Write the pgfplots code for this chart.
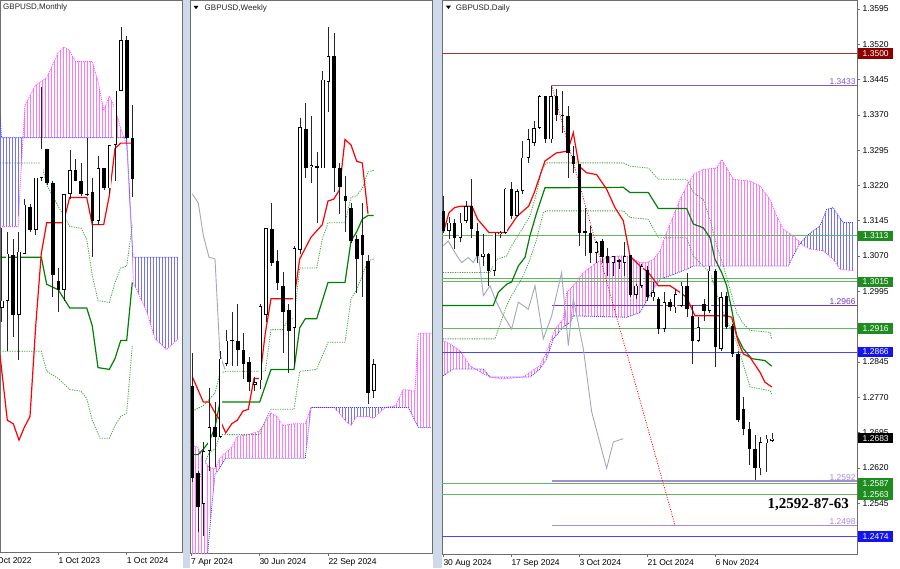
\documentclass[border=0pt]{standalone}
\usepackage{pgfplots}
\pgfplotsset{compat=1.18}
\usepackage{pgfplotstable}
\usepackage{fontspec}
\setmainfont{Liberation Sans}
\newfontfamily\timesbold{Liberation Serif}
\usetikzlibrary{patterns.meta}

\definecolor{tenkan}{RGB}{255,0,0}
\definecolor{kijun}{RGB}{0,128,0}
\definecolor{spanline}{RGB}{60,165,60}
\definecolor{chikou}{RGB}{160,168,186}
\definecolor{kumoA}{RGB}{255,70,255}
\definecolor{kumoB}{RGB}{60,60,255}
\definecolor{kumoAfill}{RGB}{255,120,255}
\definecolor{kumoBfill}{RGB}{115,115,255}
\definecolor{sepband}{RGB}{206,217,233}
\definecolor{frame}{RGB}{110,110,110}
\definecolor{lvlgreen}{RGB}{95,185,95}
\definecolor{boxgreen}{RGB}{30,140,30}
\definecolor{lvlblue}{RGB}{70,70,255}
\definecolor{boxblue}{RGB}{20,20,240}
\definecolor{lvlred}{RGB}{180,45,45}
\definecolor{boxred}{RGB}{140,0,0}
\definecolor{purpA}{RGB}{130,90,205}
\definecolor{purpB}{RGB}{115,55,185}
\definecolor{purpC}{RGB}{170,140,212}

% monthly, x and y in screen units (y from top)
\pgfplotstableread{
x     o     h     l     c
1.7   307.9 228.2 322.4 300.6
7.4   300.6 231.8 351.3 253.5
13.1  255.4 239.1 336.8 315.1
18.7  315.1 231.8 360.4 251.7
24.4  253.5 199.2 253.5 204.6
30.1  206.5 204.0 232.0 230.0
35.8  230.0 177.5 235.4 177.5
41.5  177.5 86.9  181.1 148.5
47.1  148.5 148.5 184.7 182.9
52.8  182.9 181.1 297.0 275.3
58.5  280.7 268.0 311.5 289.8
64.2  289.8 193.8 300.6 193.8
69.9  193.8 150.3 199.2 170.2
75.5  170.2 159.4 181.1 181.1
81.2  181.1 163.0 195.6 193.8
86.9  193.8 137.6 195.6 194.5
92.6  192.0 177.5 257.2 220.9
98.3  220.9 155.7 224.6 168.4
103.9 168.4 168.4 190.2 188.3
109.6 188.3 144.9 193.8 144.9
115.3 144.9 90.6  181.1 90.6
121.0 90.6  27.2  90.6  39.8
126.7 39.8  36.2  139.4 137.6
132.3 137.6 105.0 197.4 179.3
}\monthly

% weekly, same units
\pgfplotstableread{
x     o     h     l     c
192.3 385.7 353.1 481.7 478.1
198.0 472.7 470.9 532.4 507.1
203.6 503.5 441.9 536.1 450.9
209.3 450.9 387.6 470.9 427.4
215.0 427.4 402.0 467.2 436.5
220.6 436.5 351.3 438.3 358.6
226.3 364.0 329.6 365.8 340.5
232.0 341.2 311.5 365.8 339.7
237.7 340.5 304.2 365.8 349.5
243.3 349.5 333.2 378.5 364.0
249.0 362.2 356.8 391.2 382.1
254.7 384.7 376.7 391.2 382.1
260.3 380.3 304.2 389.4 306.1
266.0 315.1 228.2 322.4 228.2
271.7 228.9 202.8 266.2 262.6
277.3 260.8 249.9 289.8 282.5
283.0 286.1 271.7 353.1 311.5
288.7 309.7 304.2 373.1 331.4
294.3 327.8 246.3 365.8 248.1
300.0 249.9 117.7 253.5 126.8
305.7 128.6 103.2 177.5 168.4
311.3 166.6 115.9 182.9 164.8
317.0 165.9 152.1 222.8 168.4
322.7 168.4 70.6  168.4 79.7
328.3 81.5  27.2  112.3 56.1
334.0 56.1  32.6  192.0 168.4
339.7 168.4 163.0 213.7 186.5
345.3 195.6 175.7 231.8 201.0
351.0 208.3 202.8 242.7 240.9
356.7 239.1 235.4 293.4 259.0
362.3 235.4 202.8 297.0 255.4
368.0 260.8 255.4 403.9 393.0
373.7 391.2 358.6 398.4 364.0
}\weekly

% daily, bar index and price
\pgfplotstableread{
x  o      h      l      c
0  1.3166 1.3198 1.3120 1.3123
1  1.3123 1.3152 1.3106 1.3141
2  1.3141 1.3148 1.3085 1.3109
3  1.3109 1.3162 1.3099 1.3141
4  1.3145 1.3187 1.3141 1.3176
5  1.3176 1.3233 1.3109 1.3127
6  1.3123 1.3141 1.3056 1.3070
7  1.3068 1.3116 1.3049 1.3075
8  1.3074 1.3077 1.3007 1.3039
9  1.3039 1.3120 1.3028 1.3120
10 1.3116 1.3123 1.3109 1.3120
11 1.3120 1.3215 1.3116 1.3213
12 1.3213 1.3227 1.3148 1.3155
13 1.3155 1.3212 1.3152 1.3208
14 1.3208 1.3314 1.3201 1.3279
15 1.3279 1.3339 1.3268 1.3318
16 1.3310 1.3356 1.3303 1.3342
17 1.3342 1.3413 1.3339 1.3409
18 1.3409 1.3411 1.3310 1.3318
19 1.3318 1.3432 1.3310 1.3409
20 1.3409 1.3425 1.3356 1.3370
21 1.3370 1.3420 1.3332 1.3368
22 1.3368 1.3388 1.3236 1.3289
23 1.3282 1.3303 1.3247 1.3265
24 1.3265 1.3265 1.3092 1.3120
25 1.3120 1.3173 1.3070 1.3123
26 1.3120 1.3134 1.3056 1.3077
27 1.3077 1.3102 1.3056 1.3099
28 1.3102 1.3106 1.3056 1.3067
29 1.3070 1.3088 1.3028 1.3056
30 1.3056 1.3070 1.3028 1.3070
31 1.3061 1.3063 1.3042 1.3058
32 1.3056 1.3100 1.3028 1.3070
33 1.3072 1.3072 1.2984 1.2987
34 1.2987 1.3010 1.2979 1.3007
35 1.3007 1.3053 1.3003 1.3049
36 1.3041 1.3049 1.2975 1.2982
37 1.2982 1.3014 1.2975 1.2993
38 1.2979 1.2982 1.2904 1.2915
39 1.2915 1.2993 1.2908 1.2972
40 1.2972 1.2979 1.2954 1.2961
41 1.2961 1.3000 1.2950 1.2989
42 1.2964 1.3014 1.2961 1.3007
43 1.3007 1.3035 1.2940 1.2957
44 1.2943 1.2965 1.2841 1.2890
45 1.2890 1.2940 1.2887 1.2919
46 1.2968 1.2979 1.2933 1.2954
47 1.2954 1.3049 1.2950 1.3039
48 1.3039 1.3042 1.2834 1.2876
49 1.2873 1.2993 1.2869 1.2982
50 1.2986 1.2993 1.2915 1.2919
51 1.2922 1.2926 1.2855 1.2862
52 1.2862 1.2869 1.2717 1.2721
53 1.2746 1.2770 1.2689 1.2703
54 1.2703 1.2717 1.2626 1.2661
55 1.2661 1.2689 1.2594 1.2619
56 1.2619 1.2686 1.2604 1.2675
57 1.2672 1.2689 1.2612 1.2682
58 1.2677 1.2695 1.2675 1.2682
}\daily

\pgfplotsset{
  panel/.style={scale only axis, anchor=south west,
    axis line style={frame, line width=0.6pt},
    tick style={frame, line width=0.5pt}, tick align=outside, major tick length=3pt,
    xtick pos=bottom,
    tick label style={font=\fontsize{8.5}{10}\selectfont},
    xticklabel style={anchor=north west, inner sep=0pt, yshift=-2pt}},
}
\tikzset{
  kumoline/.style={line width=0.8pt, dash pattern=on 1pt off 1pt},
  spandot/.style={spanline, line width=0.8pt, dash pattern=on 1.2pt off 1.2pt},
  kumofill/.style={draw=none, pattern={Lines[angle=90,distance=3pt,line width=0.38pt]}, pattern color=#1},
  pbox/.style={anchor=west, text=white, inner xsep=1pt, inner ysep=0pt,
    minimum height=10.5pt, minimum width=35pt, xshift=1pt,
    font=\fontsize{8.5}{10}\selectfont},
  lvltext/.style={anchor=south east, inner sep=0.6pt, font=\fontsize{8.5}{10}\selectfont},
}

\begin{document}
\begin{tikzpicture}
\useasboundingbox (0pt,0pt) rectangle (900pt,568pt);
\clip (0pt,0pt) rectangle (900pt,568pt);
\fill[white] (0pt,0pt) rectangle (900pt,568pt);
\fill[sepband] (182.5pt,0pt) rectangle (189.5pt,568pt);
\fill[sepband] (432.5pt,0pt) rectangle (441.5pt,568pt);

% ---------------- Monthly ----------------
\begin{axis}[panel, at={(0pt,16pt)}, width=182pt, height=552pt,
  xmin=0, xmax=182, ymin=0, ymax=552, y dir=reverse, ytick=\empty,
  xtick={58.3,126.7}, xticklabels={1 Oct 2023,1 Oct 2024}]
% cloud regions
\addplot[kumofill=kumoBfill] coordinates {(0,115.9) (1.5,137.6) (23.04,137.6) (20,188.3) (18.3,226.4) (0,226.4)} -- cycle;
\addplot[kumofill=kumoAfill] coordinates {(23.04,137.6) (25,105) (35.7,85.1) (46.7,77.9) (58.3,52.5) (64,47.1) (69.7,50.7) (75.3,61.6) (92.3,61.6) (98,81.5) (103.7,110.5) (109.3,96) (115,108.7) (120.7,128.6) (124,137.6)} -- cycle;
\addplot[kumofill=kumoBfill] coordinates {(124,137.6) (126.7,137.6) (133,257.2) (178.3,257.2) (178.3,338.7) (166.7,349.5) (155,338.7) (146.7,311.5) (140,297) (133.3,282.5) (132.3,250) (126.7,144.9)} -- cycle;
\addplot[kumoA, kumoline] coordinates {(0,226.4) (18.3,226.4) (20,188.3) (25,105) (35.7,85.1) (46.7,77.9) (58.3,52.5) (64,47.1) (69.7,50.7) (75.3,61.6) (92.3,61.6) (98,81.5) (103.7,110.5) (109.3,96) (115,108.7) (120.7,128.6) (126.7,144.9) (132.3,250) (133.3,282.5) (140,297) (146.7,311.5) (155,338.7) (166.7,349.5) (178.3,338.7)};
\addplot[kumoB, kumoline] coordinates {(0,115.9) (1.5,137.6) (126.7,137.6) (133,257.2) (178.3,257.2)};
% lines
\addplot[spandot] coordinates {(0,163) (41.3,163) (46.7,184.7) (58.3,206.5) (69.7,226.4) (81,228.2) (86.7,239.1) (92.3,275.3) (98,300.6) (109.3,302.4) (115,282.5) (120.7,268) (126.7,266.2) (132.3,224.6)};
\addplot[spandot] coordinates {(0,351.3) (41.3,351.3) (46.7,371.3) (58.3,378.5) (69.7,389.4) (81,391.2) (86.7,398.4) (92.3,420.2) (100,438.3) (109.3,438.3) (115,425.6) (120.7,416.5) (126.7,412.9) (132.3,345.9)};
\addplot[kijun, line width=1.2pt] coordinates {(0,257.2) (41.3,257.2) (46.7,284.3) (58.3,289.8) (69.7,307.9) (86.7,307.9) (92.3,326) (98,367.6) (109.3,369.4) (115,358.6) (120.7,340.5) (126.7,340.5) (132.3,282.5)};
\addplot[tenkan, line width=1.2pt] coordinates {(0,355) (7.3,420.2) (13.3,423.8) (19,440.1) (24.3,427.4) (30,416.5) (35.7,326) (41.3,253.5) (46.7,222.8) (63.3,222.8) (69.7,197.4) (86.7,197.4) (92.3,224.6) (103.7,224.6) (109.3,195.6) (115,148.5) (120.7,143.1) (132.3,143.1)};
% candles: wick, body, hollow inside of rising bars
\addplot[black!85, line width=0.8pt, quiver={u=0, v=\thisrow{l}-\thisrow{h}}] table[x=x, y=h] {\monthly};
\addplot[black, line width=3.6pt, quiver={u=0, v={max(abs(\thisrow{o}-\thisrow{c}),1)}}] table[x=x, y expr={min(\thisrow{o},\thisrow{c})}] {\monthly};
\addplot[white, line width=2.1pt, quiver={u=0, v={max(\thisrow{o}-\thisrow{c}-1.5,0)}}] table[x=x, y expr={\thisrow{c}+0.75}] {\monthly};
\node[anchor=west, inner sep=0pt, font=\fontsize{8}{9.6}\selectfont, text=black!85] at (axis cs:3,7.5) {GBPUSD,Monthly};
\coordinate (oct22) at (axis cs:-10.1,552);
\end{axis}
\node[anchor=north west, inner sep=0pt, yshift=-5pt, font=\fontsize{8.5}{10}\selectfont] at (oct22) {1 Oct 2022};

% ---------------- Weekly ----------------
\begin{axis}[panel, at={(190pt,15pt)}, width=242pt, height=553pt,
  xmin=190, xmax=432, ymin=0, ymax=553, y dir=reverse, ytick=\empty,
  xtick={191,259.3,328.3}, xticklabels={7 Apr 2024,30 Jun 2024,22 Sep 2024}]
\addplot[kumofill=kumoAfill] coordinates {(190,445) (192.3,445.5) (197.7,447.3) (203.3,460) (209,467.2) (215,469) (220,458.2) (225.7,452.8) (231.7,447.3) (237.3,436.5) (248.3,434.6) (259.7,431) (265.3,422) (271,412.9) (277,416.5) (282.7,425.6) (294,423.8) (305.3,423.8) (311,407.5) (305.3,458.2) (225.7,458.2) (220,467.2) (215,474.5) (211.7,507) (206.7,565) (192.3,572) (190,575)} -- cycle;
\addplot[kumofill=kumoBfill] coordinates {(333.7,407.5) (339.3,412.9) (345,420.2) (351,425.6) (356.7,416.5) (368,416.5) (373.7,418.3) (385,407.5)} -- cycle;
\addplot[kumofill=kumoAfill] coordinates {(385,407.5) (395.7,405.7) (403.3,389.4) (415,391.2) (418.3,333.2) (432,333.2) (432,427.4) (418.3,427.4) (408.3,407.5)} -- cycle;
\addplot[kumoA, kumoline] coordinates {(190,445) (192.3,445.5) (197.7,447.3) (203.3,460) (209,467.2) (215,469) (220,458.2) (225.7,452.8) (231.7,447.3) (237.3,436.5) (248.3,434.6) (259.7,431) (265.3,422) (271,412.9) (277,416.5) (282.7,425.6) (294,423.8) (305.3,423.8) (311,407.5) (333.7,407.5) (339.3,412.9) (345,420.2) (351,425.6) (356.7,416.5) (368,416.5) (373.7,418.3) (385,407.5) (395.7,405.7) (403.3,389.4) (415,391.2) (418.3,333.2) (431.7,333.2)};
\addplot[kumoB, kumoline] coordinates {(192.3,572) (206.7,565) (211.7,507) (215,474.5) (220,467.2) (225.7,458.2) (305.3,458.2) (311,407.5) (408.3,407.5) (418.3,427.4) (431.7,427.4)};
\addplot[chikou, line width=0.9pt] coordinates {(192.3,193.8) (198.3,202.8) (203.3,235.4) (209,257.2) (215,259) (220,355) (225,369.4)};
\addplot[spandot] coordinates {(192.3,411.1) (203.3,405.7) (215,393) (220,373.1) (225.7,371.3) (265.3,371.3) (271,329.6) (282.7,329.6) (288.3,318.7) (294,318.7) (299.7,268) (316.7,268) (322.3,239.1) (328,222.8) (345,222.8) (351,197.4) (356.7,195.6) (362.3,188.3) (368,172) (373.7,170.2)};
\addplot[spandot] coordinates {(198.3,481.7) (203.3,467.2) (209,452.8) (215,449.1) (220,434.6) (259.7,434.6) (265.3,420.2) (271,409.3) (294,409.3) (299.7,371.3) (316.7,369.4) (328,342.3) (345,342.3) (351,298.8) (356.7,289.8) (362.3,275.3) (368,260.8) (373.7,259)};
\addplot[kijun, line width=1.2pt] coordinates {(192.3,454.6) (198.3,454.6) (203.3,449.1) (209,441.9) (215,427.4) (220,402) (259.7,402) (271,369.4) (294,369.4) (299.7,327.8) (305.3,318.7) (316.7,318.7) (328,282.5) (345,282.5) (351,240.9) (356.7,231.8) (362.3,219.1) (368,215.5) (373.7,215.5)};
\addplot[tenkan, line width=1.2pt] coordinates {(192.3,376.7) (203.3,402) (209,402) (215,412.9) (220,420.2) (225.7,432.8) (231.7,423.8) (237.3,420.2) (243,411.1) (248.3,409.3) (254,378.5) (259.7,378.5) (265.3,333.2) (271,298.8) (294,298.8) (299.7,259) (311,237.2) (322.3,224.6) (328,201) (333.7,199.2) (339.3,190.2) (345,139.4) (351,144.9) (356.7,161.2) (362.3,163) (368,213.7)};
\addplot[black!85, line width=0.8pt, quiver={u=0, v=\thisrow{l}-\thisrow{h}}] table[x=x, y=h] {\weekly};
\addplot[black, line width=3.6pt, quiver={u=0, v={max(abs(\thisrow{o}-\thisrow{c}),1)}}] table[x=x, y expr={min(\thisrow{o},\thisrow{c})}] {\weekly};
\addplot[white, line width=2.1pt, quiver={u=0, v={max(\thisrow{o}-\thisrow{c}-1.5,0)}}] table[x=x, y expr={\thisrow{c}+0.75}] {\weekly};
\fill[black] (axis cs:193.5,5.8) -- (axis cs:198.5,5.8) -- (axis cs:196,9.2) -- cycle;
\node[anchor=west, inner sep=0pt, font=\fontsize{8}{9.6}\selectfont, text=black!85] at (axis cs:204.5,8) {GBPUSD,Weekly};
\end{axis}

% ---------------- Daily ----------------
\begin{axis}[panel, at={(442pt,14pt)}, width=415pt, height=554pt,
  xmin=-0.23, xmax=73, ymin=1.2437, ymax=1.3614,
  xtick={0,12,24,36,48}, xticklabels={30 Aug 2024,17 Sep 2024,3 Oct 2024,21 Oct 2024,6 Nov 2024},
  ytick pos=right, yticklabel pos=right,
  ytick={1.2545,1.2620,1.2695,1.2770,1.2845,1.2995,1.3070,1.3145,1.3220,1.3295,1.3370,1.3445,1.3520,1.3595},
  yticklabel style={anchor=west, xshift=-1pt, /pgf/number format/fixed, /pgf/number format/fixed zerofill, /pgf/number format/precision=4},
  /pgf/number format/assume math mode=true]
\addplot[kumofill=kumoAfill] coordinates {(-0.3,1.2890) (0,1.2890) (1.18,1.2883) (2.94,1.2869) (4.71,1.2837) (7.06,1.2820) (8.24,1.2813) (10.59,1.2809) (14.12,1.2813) (15.29,1.2823) (17.06,1.2837) (18.24,1.2866) (19.71,1.2915) (21.18,1.2936) (21.76,1.2993) (22.94,1.3007) (24.71,1.3035) (27.06,1.3056) (28.82,1.3067) (31.18,1.3070) (32.35,1.3070) (34.71,1.3056) (35.88,1.3056) (37.06,1.3063) (38.24,1.3081) (39.41,1.3120) (40.59,1.3155) (41.76,1.3190) (42.94,1.3219) (44.12,1.3243) (45.88,1.3254) (48.24,1.3257) (49.12,1.3275) (50,1.3257) (51.18,1.3233) (54.12,1.3229) (55.88,1.3219) (57.65,1.3190) (58.82,1.3155) (60,1.3127) (61.76,1.3113) (63.05,1.3098) (62.65,1.3092) (60.88,1.3049) (44.12,1.3049) (42.94,1.3042) (40,1.3028) (38.24,1.3021) (37.06,1.2999) (35.88,1.2975) (34.71,1.2950) (32.35,1.2940) (22.94,1.2943) (22.35,1.2929) (21.18,1.2919) (19.41,1.2894) (18.24,1.2852) (17.06,1.2830) (15.29,1.2813) (8.24,1.2813) (7.06,1.2830) (1.76,1.2830) (0,1.2816) (-0.3,1.2816)} -- cycle;
\addplot[kumofill=kumoBfill] coordinates {(63.05,1.3098) (64.12,1.3113) (66.47,1.3134) (67.65,1.3169) (68.82,1.3173) (69.71,1.3155) (70.59,1.3141) (72.35,1.3141) (72.35,1.3039) (70,1.3042) (68.82,1.3063) (67.06,1.3081) (64.71,1.3085) (63.53,1.3092)} -- cycle;
\addplot[kumoA, kumoline] coordinates {(0,1.2890) (1.18,1.2883) (2.94,1.2869) (4.71,1.2837) (7.06,1.2820) (8.24,1.2813) (10.59,1.2809) (14.12,1.2813) (15.29,1.2823) (17.06,1.2837) (18.24,1.2866) (19.71,1.2915) (21.18,1.2936) (21.76,1.2993) (22.94,1.3007) (24.71,1.3035) (27.06,1.3056) (28.82,1.3067) (31.18,1.3070) (32.35,1.3070) (34.71,1.3056) (35.88,1.3056) (37.06,1.3063) (38.24,1.3081) (39.41,1.3120) (40.59,1.3155) (41.76,1.3190) (42.94,1.3219) (44.12,1.3243) (45.88,1.3254) (48.24,1.3257) (49.12,1.3275) (50,1.3257) (51.18,1.3233) (54.12,1.3229) (55.88,1.3219) (57.65,1.3190) (58.82,1.3155) (60,1.3127) (61.76,1.3113) (63.53,1.3092) (64.71,1.3085) (67.06,1.3081) (68.82,1.3063) (70,1.3042) (72.35,1.3039)};
\addplot[kumoB, kumoline] coordinates {(0,1.2816) (1.76,1.2830) (7.06,1.2830) (8.24,1.2813) (15.29,1.2813) (17.06,1.2830) (18.24,1.2852) (19.41,1.2894) (21.18,1.2919) (22.35,1.2929) (22.94,1.2943) (32.35,1.2940) (34.71,1.2950) (35.88,1.2975) (37.06,1.2999) (38.24,1.3021) (40,1.3028) (42.94,1.3042) (44.12,1.3049) (60.88,1.3049) (62.65,1.3092) (64.12,1.3113) (66.47,1.3134) (67.65,1.3169) (68.82,1.3173) (69.71,1.3155) (70.59,1.3141) (72.35,1.3141)};
% levels
\addplot[lvlred, line width=1pt] coordinates {(-1,1.3500) (74,1.3500)};
\addplot[purpA, line width=0.9pt] coordinates {(19.12,1.3433) (74,1.3433)};
\addplot[lvlgreen, line width=1pt] coordinates {(-1,1.3113) (74,1.3113)};
\addplot[lvlgreen, line width=0.9pt] coordinates {(-1,1.3022) (74,1.3022)};
\addplot[lvlgreen, line width=0.9pt] coordinates {(-1,1.3015) (74,1.3015)};
\addplot[purpB, line width=0.9pt] coordinates {(19.12,1.2966) (74,1.2966)};
\addplot[lvlgreen, line width=1pt] coordinates {(-1,1.2916) (74,1.2916)};
\addplot[lvlblue, line width=1pt] coordinates {(-1,1.2866) (74,1.2866)};
\addplot[purpC, line width=1.4pt] coordinates {(19.12,1.2592) (74,1.2592)};
\addplot[lvlgreen, line width=1pt] coordinates {(-1,1.2587) (74,1.2587)};
\addplot[lvlgreen, line width=1pt] coordinates {(-1,1.2563) (74,1.2563)};
\addplot[purpC, line width=1.4pt] coordinates {(19.12,1.2498) (74,1.2498)};
\addplot[lvlblue, line width=1pt] coordinates {(-1,1.2474) (74,1.2474)};
% ichimoku lines
\addplot[chikou, line width=0.9pt] coordinates {(0,1.3092) (0.88,1.3102) (2.06,1.3077) (3.24,1.3056) (4.41,1.3067) (5.29,1.3056) (6.18,1.3077) (7.06,1.2986) (8.24,1.3007) (9.12,1.2979) (10.29,1.2950) (12.06,1.2915) (13.24,1.2972) (15,1.2957) (16.18,1.3007) (17.65,1.2894) (19.12,1.2943) (20.88,1.3035) (22.06,1.2880) (22.94,1.2979) (24.71,1.2873) (26.18,1.2739) (28.82,1.2619) (30,1.2675) (31.76,1.2682)};
\addplot[spandot] coordinates {(-0.5,1.3035) (8.24,1.3035) (9.41,1.3063) (11.18,1.3070) (12.06,1.3092) (13.53,1.3120) (15.29,1.3155) (16.47,1.3205) (17.35,1.3254) (18.24,1.3268) (31.76,1.3268) (32.94,1.3261) (36.18,1.3257) (37.94,1.3233) (42.94,1.3233) (44.12,1.3205) (45.88,1.3190) (47.06,1.3148) (48.24,1.3092) (49.41,1.3049) (50.59,1.2999) (51.76,1.2950) (52.94,1.2926) (54.12,1.2912) (57.65,1.2908) (57.94,1.2894)};
\addplot[spandot] coordinates {(-0.5,1.2894) (9.12,1.2894) (11.18,1.2965) (12.06,1.2986) (14.12,1.3028) (15.29,1.3063) (16.47,1.3106) (17.65,1.3162) (18.24,1.3166) (31.76,1.3166) (32.94,1.3152) (36.18,1.3148) (37.94,1.3109) (42.94,1.3109) (44.12,1.3070) (47.06,1.3035) (49.12,1.2957) (51.76,1.2887) (54.12,1.2792) (57.65,1.2784) (57.94,1.2777)};
\addplot[kijun, line width=1.2pt] coordinates {(-0.5,1.2965) (8.82,1.2965) (9.71,1.2993) (11.18,1.3010) (12.06,1.3015) (13.24,1.3049) (14.41,1.3067) (15.29,1.3113) (16.47,1.3162) (17.94,1.3215) (31.76,1.3216) (32.94,1.3205) (36.18,1.3205) (37.94,1.3171) (42.94,1.3171) (44.12,1.3138) (45.88,1.3130) (47.06,1.3109) (47.94,1.3063) (49.12,1.3035) (50,1.3007) (50.88,1.2957) (51.76,1.2901) (52.94,1.2873) (54.41,1.2852) (56.76,1.2848) (57.94,1.2836)};
\addplot[tenkan, line width=1.2pt] coordinates {(0,1.3120) (1,1.3162) (2,1.3173) (3.06,1.3176) (5.06,1.3176) (6.06,1.3148) (8.06,1.3120) (11.06,1.3120) (13.06,1.3155) (15.06,1.3176) (16.06,1.3205) (17.94,1.3272) (19.94,1.3289) (21.94,1.3293) (22.94,1.3332) (23.94,1.3261) (25.29,1.3247) (27.06,1.3243) (28.82,1.3212) (30.29,1.3173) (31.76,1.3145) (32.94,1.3070) (34.71,1.3049) (36.18,1.3035) (37.94,1.3007) (40,1.3007) (41.76,1.2993) (42.94,1.2982) (44.41,1.2943) (50,1.2943) (50.88,1.2940) (52.06,1.2887) (52.94,1.2862) (54.12,1.2855) (55.88,1.2823) (56.76,1.2802) (57.94,1.2792)};
\addplot[red, line width=0.8pt, dash pattern=on 1pt off 1.5pt] coordinates {(19.12,1.3433) (40.88,1.2498)};
% candles
\addplot[black!85, line width=0.8pt, quiver={u=0, v=\thisrow{h}-\thisrow{l}}] table[x=x, y=l] {\daily};
\addplot[black, line width=3.3pt, quiver={u=0, v={max(abs(\thisrow{c}-\thisrow{o}),0.0002)}}] table[x=x, y expr={min(\thisrow{o},\thisrow{c})}] {\daily};
\addplot[white, line width=1.8pt, quiver={u=0, v={max(\thisrow{c}-\thisrow{o}-0.00032,0)}}] table[x=x, y expr={\thisrow{o}+0.00016}] {\daily};
% texts
\fill[black] (axis cs:0.45,1.36020) -- (axis cs:1.35,1.36020) -- (axis cs:0.9,1.35948) -- cycle;
\node[anchor=west, inner sep=0pt, font=\fontsize{8}{9.6}\selectfont, text=black!85] at (axis cs:2.2,1.35970) {GBPUSD,Daily};
\node[lvltext, text=purpA] at (axis cs:72.9,1.3433) {1.3433};
\node[lvltext, text=purpB] at (axis cs:72.9,1.2966) {1.2966};
\node[lvltext, text=purpC] at (axis cs:72.9,1.2592) {1.2592};
\node[lvltext, text=purpC] at (axis cs:72.9,1.2498) {1.2498};
\node[font=\timesbold\bfseries\fontsize{15}{18}\selectfont] at (axis cs:64.4,1.2541) {1,2592-87-63};
\coordinate (q3500) at (axis cs:73,1.3500);
\coordinate (q3113) at (axis cs:73,1.3113);
\coordinate (q3015) at (axis cs:73,1.3015);
\coordinate (q2916) at (axis cs:73,1.2916);
\coordinate (q2866) at (axis cs:73,1.2866);
\coordinate (q2683) at (axis cs:73,1.2683);
\coordinate (q2587) at (axis cs:73,1.2587);
\coordinate (q2563) at (axis cs:73,1.2563);
\coordinate (q2474) at (axis cs:73,1.2474);
\end{axis}

\node[pbox, fill=boxred] at (q3500) {1.3500};
\node[pbox, fill=boxgreen] at (q3113) {1.3113};
\node[pbox, fill=boxgreen] at (q3015) {1.3015};
\node[pbox, fill=boxgreen] at (q2916) {1.2916};
\node[pbox, fill=boxblue] at (q2866) {1.2866};
\node[pbox, fill=black] at (q2683) {1.2683};
\node[pbox, fill=boxgreen] at (q2587) {1.2587};
\node[pbox, fill=boxgreen] at (q2563) {1.2563};
\node[pbox, fill=boxblue] at (q2474) {1.2474};
\end{tikzpicture}
\end{document}
